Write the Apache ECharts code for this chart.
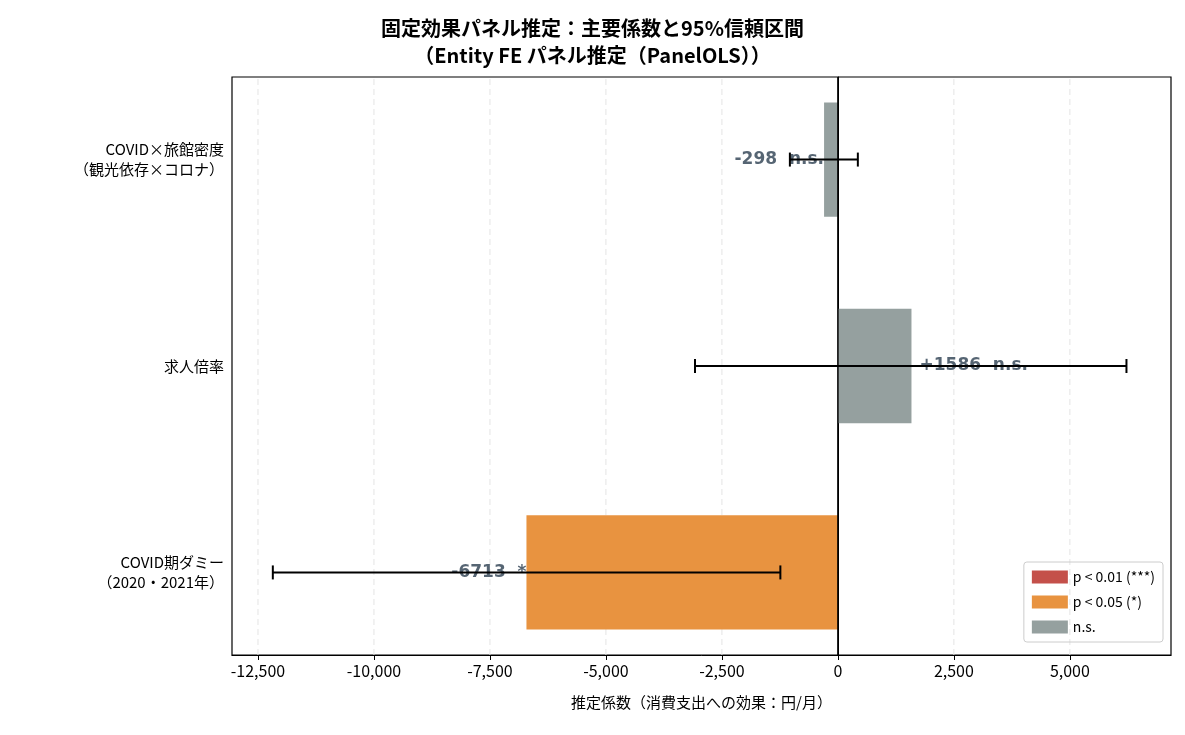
<!DOCTYPE html><html><head><meta charset="utf-8"><script src="https://cdn.jsdelivr.net/npm/echarts@6/dist/echarts.min.js"></script>
<style>body{margin:0}#c{width:1185px;height:735px}</style></head><body><div id="c"></div><script>
const categories=['COVID期ダミー\n（2020・2021年）','求人倍率','COVID×旅館密度\n（観光依存×コロナ）'];
const coef=[-6713,1586,-298];
const ciLow=[-12180,-3080,-1035];
const ciHigh=[-1240,6220,430];
const sig=['*','n.s.','n.s.'];
const labels=['-6713  *','+1586  n.s.','-298  n.s.'];
const xTicks=[-12500,-10000,-7500,-5000,-2500,0,2500,5000];
const colors={'***':'#c4504a','*':'#e89340','n.s.':'#95a09f'};
const legendNames=['p < 0.01 (***)','p < 0.05 (*)','n.s.'];
const F='Noto Sans CJK JP';
const ch=echarts.init(document.getElementById('c'));
ch.setOption({
 textStyle:{fontFamily:F},
 title:{text:'固定効果パネル推定：主要係数と95%信頼区間\n（Entity FE パネル推定（PanelOLS））',left:'center',top:10,textStyle:{fontFamily:F,fontSize:20,fontWeight:'bold',color:'#000',lineHeight:27}},
 grid:{left:232,right:14,top:77,bottom:80,show:true,borderColor:'#000',borderWidth:1.2,backgroundColor:'transparent'},
 legend:{right:22,bottom:93,orient:'vertical',itemWidth:36,itemHeight:13,itemGap:11,borderColor:'#ccc',borderWidth:1,borderRadius:3,padding:[8,8],textStyle:{fontFamily:F,fontSize:14,color:'#000'},data:legendNames.map((n,i)=>({name:n,icon:'rect',itemStyle:{color:Object.values(colors)[i]}}))},
 xAxis:{type:'value',min:-13060,max:7180,name:'推定係数（消費支出への効果：円/月）',nameLocation:'middle',nameGap:40,nameTextStyle:{fontSize:15,color:'#000'},
  axisLine:{show:true,onZero:false,lineStyle:{color:'#000'}},axisTick:{show:true,customValues:xTicks,lineStyle:{color:'#000'}},
  axisLabel:{fontSize:16,color:'#000',customValues:xTicks},splitLine:{show:false}},
 yAxis:{type:'value',min:-0.4,max:2.4,axisLine:{show:true,lineStyle:{color:'#000'}},splitLine:{show:false},
  axisTick:{show:true,customValues:[0,1,2],lineStyle:{color:'#000'}},
  axisLabel:{customValues:[0,1,2],formatter:v=>categories[Math.round(v)],fontSize:15,color:'#000',lineHeight:20,align:'right'}},
 series:[
  ...legendNames.map((n,i)=>({name:n,type:'bar',data:[],itemStyle:{color:Object.values(colors)[i]}})),
  {type:'custom',z:1,silent:true,data:xTicks.filter(t=>t!==0).map(t=>[t]),
   renderItem:(p,api)=>{const a=api.coord([api.value(0),-0.4]),b=api.coord([api.value(0),2.4]);return {type:'line',shape:{x1:a[0],y1:a[1],x2:b[0],y2:b[1]},style:{stroke:'#e4e4e4',lineWidth:1,lineDash:[6,4]}};}},
  {type:'custom',z:2,data:coef.map((v,i)=>[i,v,sig[i]]),
   renderItem:(p,api)=>{const i=api.value(0),v=api.value(1);const a=api.coord([0,i+0.277]),b=api.coord([v,i-0.277]);
    return {type:'rect',shape:{x:Math.min(a[0],b[0]),y:a[1],width:Math.abs(b[0]-a[0]),height:b[1]-a[1]},style:{fill:colors[sig[i]]}};}},
  {type:'custom',z:3,silent:true,data:[[0]],renderItem:(p,api)=>{const a=api.coord([0,-0.4]),b=api.coord([0,2.4]);return {type:'line',shape:{x1:a[0],y1:a[1],x2:b[0],y2:b[1]},style:{stroke:'#000',lineWidth:1.5}};}},
  {type:'scatter',z:4,symbolSize:0,data:coef.map((v,i)=>({value:[v,i],label:{show:true,formatter:labels[i],position:v<0?'left':'right',distance:v<0?0:8,fontFamily:'DejaVu Sans',fontSize:17,fontWeight:'bold',color:'#2c3e50'}}))},
  {type:'custom',z:5,data:coef.map((v,i)=>[i,ciLow[i],ciHigh[i]]),
   renderItem:(p,api)=>{const a=api.coord([api.value(1),api.value(0)]),b=api.coord([api.value(2),api.value(0)]);const h=7;const s={stroke:'#000',lineWidth:2};
    return {type:'group',children:[{type:'line',shape:{x1:a[0],y1:a[1],x2:b[0],y2:b[1]},style:s},{type:'line',shape:{x1:a[0],y1:a[1]-h,x2:a[0],y2:a[1]+h},style:s},{type:'line',shape:{x1:b[0],y1:b[1]-h,x2:b[0],y2:b[1]+h},style:s}]};}}
 ]
});
</script></body></html>
